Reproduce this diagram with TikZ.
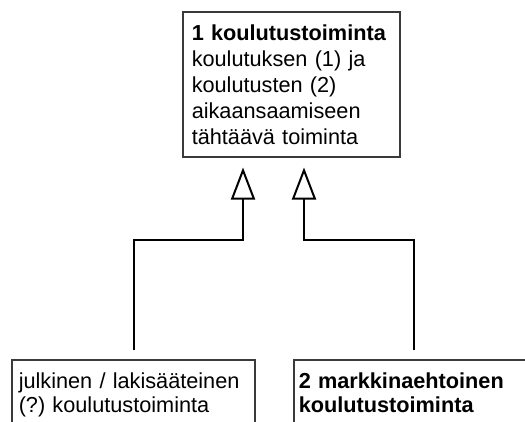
\documentclass[tikz,border=0pt]{standalone}
\usepackage{fontspec}
\setmainfont{Liberation Sans}
\usetikzlibrary{arrows.meta}
\definecolor{boxgray}{HTML}{3A3A3A}
\begin{document}
\begin{tikzpicture}[x=1bp,y=-1bp,
  box/.style={draw=boxgray, line width=1.5bp, align=left,
    font=\fontsize{21.7bp}{26bp}\selectfont\frenchspacing},
  lowbox/.style={box, font=\fontsize{21.7bp}{24.5bp}\selectfont\frenchspacing,
    inner ysep=13bp},
  gen/.style={draw=black, line width=2bp,
    -{Triangle[open, length=32bp, width=24bp, line width=2bp]}}]
\useasboundingbox (0,0) rectangle (525,421);
\clip (0,0) rectangle (525,421);
\node[box, anchor=north west, text width=199bp, inner xsep=9bp, inner ysep=8bp,
      minimum height=145bp] (top) at (182,11)
  {\textbf{1 koulutustoiminta}\\koulutuksen (1) ja\\koulutusten (2)\\aikaansaamiseen\\tähtäävä toiminta};
\node[lowbox, anchor=north west, text width=229bp, inner xsep=7bp] (pub) at (11,359)
  {julkinen / lakisääteinen\\(?) koulutustoiminta\strut};
\node[lowbox, anchor=north west, text width=232bp, inner xsep=5bp] (mkt) at (293,359)
  {\textbf{2 markkinaehtoinen}\\\textbf{koulutustoiminta}\strut};
\coordinate (c1) at (134,240);
\coordinate (j1) at (243,240);
\coordinate (c2) at (414,240);
\coordinate (j2) at (304,240);
\draw[gen, shorten <=9bp, shorten >=10bp] (pub.north -| c1) -- (c1) -- (j1) -- (j1 |- top.south);
\draw[gen, shorten <=9bp, shorten >=10bp] (mkt.north -| c2) -- (c2) -- (j2) -- (j2 |- top.south);
\end{tikzpicture}
\end{document}
